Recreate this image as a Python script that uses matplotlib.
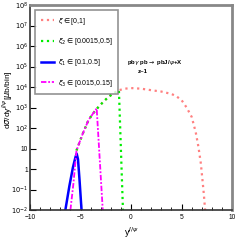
import numpy as np
import matplotlib
matplotlib.use("Agg")
import matplotlib.pyplot as plt
from matplotlib.ticker import FixedLocator, MultipleLocator

plt.rcParams['font.family'] = ['Liberation Sans', 'DejaVu Sans']
plt.rcParams['mathtext.fontset'] = 'dejavusans'

# Curves (rapidity, dsigma/dy in ub/bin)
y_all = [-5.4, -4.8, -4.2, -3.7, -3.2, -2.7, -2.2, -1.7, -1.2, -0.6, 0.0, 1.0,
         2.0, 3.0, 4.0, 4.5, 5.0, 5.5, 6.0, 6.4, 6.67, 6.9, 7.07, 7.2, 7.33]
s_all = [8, 50, 250, 560, 1100, 2000, 3400, 5000, 7000, 8300, 8900, 8300,
         7000, 6000, 4600, 3500, 2300, 1000, 350, 63, 12, 2, 0.29, 0.063, 0.01]

y_xi2 = [-5.4, -4.8, -4.2, -3.7, -3.2, -2.7, -2.2, -1.7, -1.2, -0.8]
s_xi2 = [8, 50, 250, 560, 1100, 2000, 3400, 5000, 7000, 0.01]

y_xi1 = [-6.5, -6.1, -5.75, -5.5, -5.38, -5.25, -5.1, -4.9]
s_xi1 = [0.01, 0.15, 1.2, 3.8, 5.6, 3.0, 0.3, 0.01]

y_xi3 = [-6.0, -5.7, -5.4, -4.8, -4.2, -3.7, -3.4, -3.1, -2.8]
s_xi3 = [0.01, 0.2, 8, 50, 250, 560, 900, 3.0, 0.01]

labels = [r'$\xi\in$[0,1]', r'$\xi_2\in$[0.0015,0.5]',
          r'$\xi_1\in$[0.1,0.5]', r'$\xi_3\in$[0.015,0.15]']

fig = plt.figure(figsize=(2.4, 2.4), dpi=100)
ax = fig.add_axes([0.125, 0.125, 0.842, 0.854])

ax.plot(y_all, s_all, color='#ff8080', ls=':', lw=1.6, label=labels[0])
ax.plot(y_xi2, s_xi2, color='#00ee00', ls=':', lw=1.6, label=labels[1])
ax.plot(y_xi1, s_xi1, color='#0000ff', ls='-', lw=1.8, label=labels[2])
ax.plot(y_xi3, s_xi3, color='#ff00ff', ls=(0, (3, 1, 1, 1)), lw=1.3,
        label=labels[3])

ax.set_yscale('log')
ax.set_ylim(1e-2, 1e8)
ax.set_xlim(-10, 10)

decades = [-2, -1, 0, 1, 2, 3, 4, 5, 6, 7, 8]
ytick_labels = []
for d in decades:
    if d == 0:
        ytick_labels.append('1')
    elif d == 1:
        ytick_labels.append('10')
    else:
        ytick_labels.append(r'$10^{%d}$' % d)
ax.yaxis.set_major_locator(FixedLocator([10.0 ** d for d in decades]))
ax.set_yticklabels(ytick_labels)
ax.yaxis.set_minor_locator(FixedLocator([]))

ax.set_xticks([-10, -5, 0, 5, 10])
ax.set_xticklabels(['\u221210', '\u22125', '0', '5', '10'])
ax.xaxis.set_minor_locator(MultipleLocator(1))

ax.tick_params(which='both', direction='in', labelsize=4.8, pad=1.5)
ax.tick_params(which='major', length=4, width=0.8)
ax.tick_params(which='minor', length=2, width=0.6)
ax.tick_params(axis='y', right=False)
ax.tick_params(axis='x', pad=3)

for side in ['left', 'bottom']:
    ax.spines[side].set_linewidth(1.2)
    ax.spines[side].set_color('#333333')
for side in ['top', 'right']:
    ax.spines[side].set_linewidth(2.0)
    ax.spines[side].set_color('#888888')

ax.set_ylabel(r'd$\sigma$/dy$^{J/\psi}$[$\mu$b/bin]', fontsize=6)
ax.yaxis.set_label_coords(-0.072, 0.54)
ax.set_xlabel(r'y$^{J/\psi}$', fontsize=6.5)
ax.xaxis.set_label_coords(0.5, -0.075)

ax.text(0.48, 0.72, r'pb$\gamma$ pb$\rightarrow$ pbJ/$\psi$+X', transform=ax.transAxes,
        fontsize=4.4, fontweight='bold', va='center')
ax.text(0.535, 0.678, 'z~1', transform=ax.transAxes, fontsize=4.4,
        fontweight='bold', va='center')

leg = ax.legend(loc='upper left', bbox_to_anchor=(0.025, 0.976), borderaxespad=0,
                fontsize=5, fancybox=False, frameon=True, labelspacing=1.4,
                handlelength=2.0, handletextpad=0.5, borderpad=0.8)
leg.get_frame().set_edgecolor('#777777')
leg.get_frame().set_linewidth(1.2)

fig.savefig('out.png', dpi=100)
